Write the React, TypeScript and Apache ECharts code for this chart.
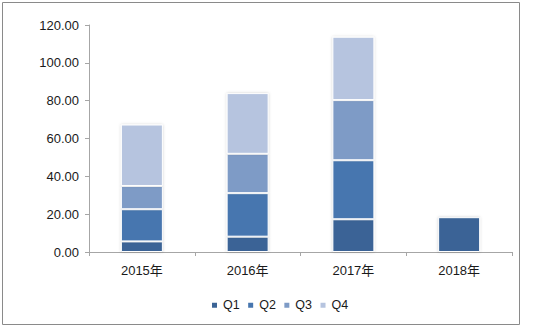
import React, { useEffect, useRef } from "react";
import * as echarts from "echarts";

const categories = ["2015年", "2016年", "2017年", "2018年"];
const q1 = [5.6, 8.1, 17.3, 18.4];
const q2 = [17.0, 23.0, 31.2, null];
const q3 = [12.3, 20.8, 31.8, null];
const q4 = [32.5, 32.1, 33.5, null];
const seriesNames = ["Q1", "Q2", "Q3", "Q4"];
const colors = ["#3B6496", "#4776AF", "#7E9BC6", "#B6C4DF"];
const yTicks = { min: 0, max: 120, interval: 20 };

export default function App() {
  const ref = useRef<HTMLDivElement>(null);
  useEffect(() => {
    if (!ref.current) return;
    const chart = echarts.init(ref.current, null, { renderer: "svg" });
    const data = [q1, q2, q3, q4];
    const font = "'Liberation Sans', 'Noto Sans CJK SC', sans-serif";
    chart.setOption({
      animation: false,
      backgroundColor: "#ffffff",
      textStyle: { fontFamily: font },
      grid: { left: 89, right: 36, top: 25, bottom: 75, containLabel: false },
      legend: {
        left: 210,
        top: 299,
        padding: 0,
        icon: "rect",
        itemWidth: 7,
        itemHeight: 7,
        itemGap: 6.5,
        textStyle: { fontSize: 12.5, color: "#1a1a1a", fontFamily: font },
        data: seriesNames,
      },
      xAxis: {
        type: "category",
        data: categories,
        axisLine: { lineStyle: { color: "#A6A6A6", width: 1 } },
        axisTick: { show: true, length: 4, lineStyle: { color: "#A6A6A6" } },
        axisLabel: { color: "#1a1a1a", fontSize: 13, margin: 12, fontFamily: font },
      },
      yAxis: {
        type: "value",
        min: yTicks.min,
        max: yTicks.max,
        interval: yTicks.interval,
        axisLine: { show: true, lineStyle: { color: "#A6A6A6", width: 1 } },
        axisTick: { show: true, length: 4, lineStyle: { color: "#A6A6A6" } },
        splitLine: { show: false },
        axisLabel: {
          color: "#1a1a1a",
          fontSize: 13,
          margin: 10,
          fontFamily: font,
          formatter: (v: number) => v.toFixed(2),
        },
      },
      series: seriesNames.map((name, i) => ({
        name,
        type: "bar",
        stack: "total",
        barWidth: 42,
        data: data[i],
        itemStyle: {
          color: colors[i],
          borderColor: "#ffffff",
          borderWidth: 1,
          shadowBlur: 3,
          shadowColor: "rgba(0,0,0,0.18)",
        },
      })),
      graphic: [
        {
          type: "rect",
          shape: { x: 2.5, y: 2.5, width: 517, height: 322 },
          style: { fill: "none", stroke: "#8a8a8a", lineWidth: 1 },
          silent: true,
        },
      ],
    });
    return () => chart.dispose();
  }, []);
  return (
    <div
      ref={ref}
      style={{ position: "fixed", left: 0, top: 0, width: 548, height: 327 }}
    />
  );
}
